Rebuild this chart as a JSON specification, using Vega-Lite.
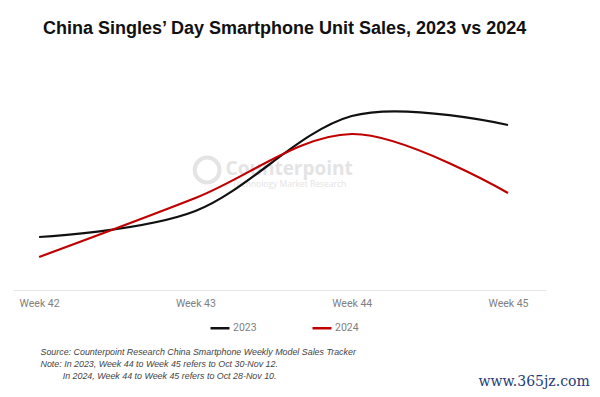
{
  "$schema": "https://vega.github.io/schema/vega-lite/v6.json",
  "width": 533,
  "height": 200,
  "autosize": {"type": "none"},
  "padding": {"left": 13, "top": 90, "right": 54, "bottom": 107},
  "background": "white",
  "config": {"view": {"stroke": null}, "font": "Liberation Sans"},
  "title": {
    "text": "China Singles’ Day Smartphone Unit Sales, 2023 vs 2024",
    "anchor": "start",
    "dx": 30,
    "offset": 38,
    "baseline": "alphabetic",
    "font": "Liberation Sans",
    "fontSize": 18,
    "fontWeight": "bold",
    "color": "#111111"
  },
  "encoding": {
    "x": {
      "field": "week",
      "type": "quantitative",
      "scale": {"domain": [41.833, 45.243], "nice": false, "zero": false},
      "axis": {
        "values": [42, 43, 44, 45],
        "labelExpr": "'Week ' + datum.value",
        "grid": false,
        "ticks": false,
        "domainColor": "#e6e6e6",
        "domainWidth": 1,
        "labelColor": "#808080",
        "labelFont": "Roboto",
        "labelFontSize": 10.5,
        "labelPadding": 8,
        "labelFlush": false,
        "labelOverlap": false,
        "title": [
          "Source: Counterpoint Research China Smartphone Weekly Model Sales Tracker",
          "Note: In 2023, Week 44 to Week 45 refers to Oct 30-Nov 12.",
          "\u200b\u00a0\u00a0\u00a0\u00a0\u00a0\u00a0\u00a0\u00a0\u00a0In 2024, Week 44 to Week 45 refers to Oct 28-Nov 10."
        ],
        "titleX": 27,
        "titleY": 64,
        "titleAngle": 0,
        "titleAlign": "left",
        "titleBaseline": "alphabetic",
        "titleFont": "Liberation Sans",
        "titleFontStyle": "italic",
        "titleFontWeight": "normal",
        "titleFontSize": 8.9,
        "titleColor": "#444444",
        "titleLineHeight": 12
      }
    },
    "y": {
      "field": "value",
      "type": "quantitative",
      "scale": {"domain": [0, 200], "nice": false},
      "axis": {
        "labels": false,
        "ticks": false,
        "domain": false,
        "grid": false,
        "title": "www.365jz.com",
        "titleX": 465,
        "titleY": 295,
        "titleAngle": 0,
        "titleAlign": "left",
        "titleBaseline": "alphabetic",
        "titleFont": "DejaVu Serif",
        "titleFontSize": 14,
        "titleFontWeight": "normal",
        "titleColor": "#1d3c78"
      }
    }
  },
  "layer": [
    {
      "data": {"values": [{"week": 43.075, "value": 120}]},
      "mark": {"type": "point", "filled": false, "stroke": "#e4e4e4", "strokeWidth": 4, "size": 616, "opacity": 1}
    },
    {
      "data": {"values": [{"week": 43.6, "value": 115, "label": "Counterpoint"}]},
      "mark": {"type": "text", "font": "Open Sans", "fontWeight": "bold", "fontSize": 19, "color": "#e4e4e4", "align": "center", "baseline": "alphabetic"},
      "encoding": {"text": {"field": "label"}}
    },
    {
      "data": {"values": [{"week": 43.6, "value": 103, "label": "Technology Market Research"}]},
      "mark": {"type": "text", "font": "Open Sans", "fontSize": 8.5, "color": "#e4e4e4", "align": "center", "baseline": "alphabetic"},
      "encoding": {"text": {"field": "label"}}
    },
    {
      "data": {
        "values": [
          {"year": "2023", "week": 42, "value": 53},
          {"year": "2023", "week": 43, "value": 79},
          {"year": "2023", "week": 44, "value": 174},
          {"year": "2023", "week": 45, "value": 165},
          {"year": "2024", "week": 42, "value": 33},
          {"year": "2024", "week": 43, "value": 92},
          {"year": "2024", "week": 44, "value": 156},
          {"year": "2024", "week": 45, "value": 97}
        ]
      },
      "mark": {"type": "line", "interpolate": "cardinal", "strokeWidth": 2.2},
      "encoding": {
        "color": {
          "field": "year",
          "type": "nominal",
          "scale": {"domain": ["2023", "2024"], "range": ["#111111", "#c00000"]},
          "legend": {
            "orient": "none",
            "legendX": 196,
            "legendY": 227,
            "direction": "horizontal",
            "title": null,
            "symbolType": "stroke",
            "symbolSize": 361,
            "symbolStrokeWidth": 2.5,
            "labelFont": "Roboto",
            "labelFontSize": 10.5,
            "labelColor": "#808080",
            "labelOffset": 2,
            "columnPadding": 50
          }
        }
      }
    }
  ]
}
